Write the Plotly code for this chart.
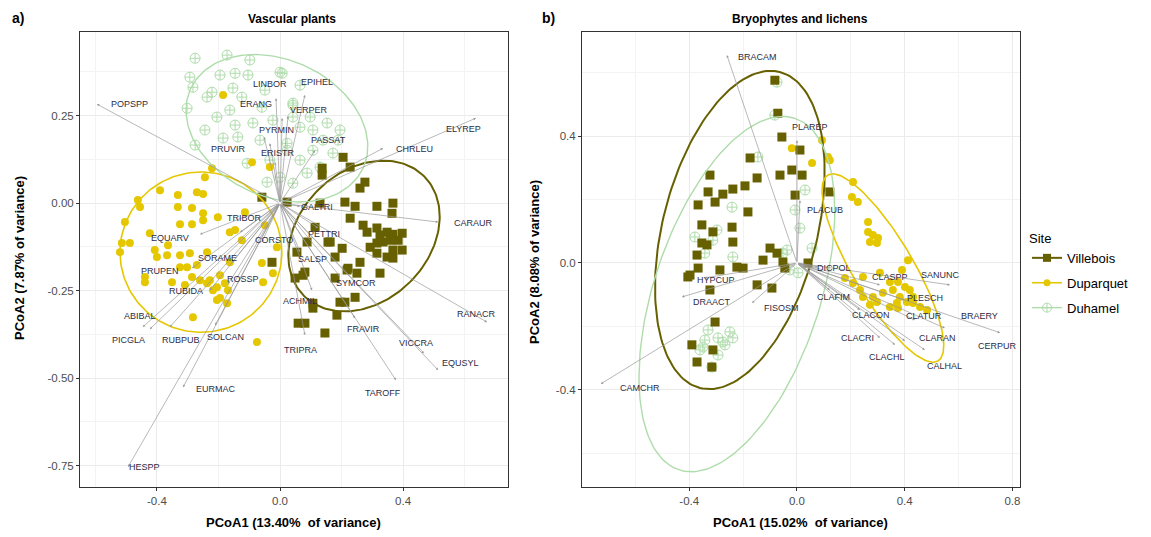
import numpy as np
import plotly.graph_objects as go

# ---------------- Panel a: Vascular plants ----------------
a_vil_x = [-0.059,0.023,0.205,0.137,0.137,0.228,0.276,0.260,0.130,0.211,0.244,0.315,0.367,0.364,0.228,0.270,0.283,0.315,0.325,0.348,0.367,0.397,0.315,0.335,0.358,0.384,0.367,0.397,0.293,0.315,0.348,0.367,0.260,0.221,0.250,0.325,0.202,0.179,0.163,0.114,0.088,0.055,0.081,0.049,0.179,0.195,0.211,0.107,0.107,0.185,0.059,0.081,0.146,-0.026,0.156,0.244,0.218,0.075]
a_vil_y = [0.017,0.003,0.131,0.100,0.080,0.103,0.060,0.043,0.000,0.003,-0.009,-0.009,0.000,-0.029,-0.043,-0.063,-0.083,-0.071,-0.091,-0.083,-0.089,-0.086,-0.114,-0.111,-0.106,-0.106,-0.134,-0.134,-0.126,-0.143,-0.154,-0.157,-0.169,-0.186,-0.200,-0.200,-0.129,-0.154,-0.111,-0.069,-0.111,-0.140,-0.197,-0.214,-0.214,-0.283,-0.283,-0.286,-0.300,-0.320,-0.343,-0.343,-0.371,-0.169,-0.111,-0.269,-0.191,-0.206]

a_dup_x = [-0.185,-0.091,-0.033,-0.221,-0.244,-0.462,-0.455,-0.332,-0.270,-0.250,-0.332,-0.286,-0.250,-0.202,-0.250,-0.325,-0.286,-0.514,-0.488,-0.520,-0.364,-0.407,-0.400,-0.367,-0.325,-0.293,-0.237,-0.439,-0.439,-0.351,-0.325,-0.302,-0.270,-0.286,-0.228,-0.205,-0.237,-0.218,-0.169,-0.195,-0.205,-0.172,-0.283,-0.163,-0.124,-0.049,-0.059,-0.055,-0.146,-0.075,-0.010,-0.023,-0.390,-0.504,-0.423,-0.114,-0.163,-0.260,-0.309,-0.195,-0.179]
a_dup_y = [0.309,0.117,0.103,0.100,0.074,0.009,-0.011,0.023,0.031,0.026,-0.011,-0.014,-0.029,-0.040,-0.049,-0.060,-0.060,-0.114,-0.114,-0.140,-0.120,-0.134,-0.154,-0.149,-0.149,-0.143,-0.140,-0.211,-0.226,-0.226,-0.183,-0.183,-0.177,-0.211,-0.220,-0.240,-0.229,-0.249,-0.249,-0.271,-0.277,-0.286,-0.326,-0.083,-0.106,-0.063,-0.171,-0.226,-0.077,-0.397,-0.126,-0.200,0.037,-0.054,-0.086,-0.026,-0.169,-0.220,-0.234,-0.206,-0.229]

a_duh_x = [-0.276,-0.172,-0.293,-0.195,-0.146,-0.104,0.000,-0.283,-0.221,-0.153,-0.124,-0.302,-0.059,0.042,-0.146,-0.088,-0.023,0.042,-0.185,-0.137,-0.276,0.023,-0.107,-0.033,0.000,-0.042,-0.205,-0.237,0.007,0.042,0.065,0.107,0.153,0.195,0.140,0.107,0.172,0.065,0.023,0.088,0.042,0.130,0.189,0.098,-0.098,0.065,-0.244,-0.065,-0.163,-0.049]
a_duh_y = [0.414,0.423,0.360,0.366,0.371,0.366,0.374,0.331,0.317,0.329,0.303,0.271,0.274,0.280,0.223,0.229,0.237,0.246,0.186,0.189,0.166,0.171,0.114,0.123,0.074,0.060,0.246,0.303,0.371,0.286,0.217,0.209,0.229,0.209,0.180,0.151,0.143,0.123,0.151,0.086,0.057,0.103,0.180,0.246,0.409,0.337,0.209,0.180,0.266,0.323]

a_species = ["POPSPP","LINBOR","EPIHEL","ERANG","VERPER","PYRMIN","PASSAT","PRUVIR","ERISTR","CHRLEU","ELYREP","GALTRI","TRIBOR","CARAUR","CORSTO","PETTRI","EQUARV","SORAME","PRUPEN","ROSSP","SALSP","SYMCOR","RUBIDA","ACHMIL","ABIBAL","RANACR","PICGLA","RUBPUB","SOLCAN","FRAVIR","VICCRA","EQUSYL","TRIPRA","TAROFF","EURMAC","HESPP"]
a_tip_x = [-0.595,-0.013,0.081,0.007,0.026,-0.033,0.114,-0.052,-0.016,0.335,0.637,0.065,-0.130,0.514,-0.059,0.124,-0.260,-0.156,-0.286,-0.169,0.065,0.195,-0.228,0.104,-0.446,0.673,-0.423,-0.358,-0.211,0.244,0.468,0.514,0.081,0.377,-0.315,-0.494]
a_tip_y = [0.283,0.300,0.309,0.243,0.249,0.171,0.151,0.189,0.117,0.157,0.243,-0.009,-0.083,-0.054,-0.111,-0.071,-0.089,-0.169,-0.186,-0.231,-0.140,-0.209,-0.249,-0.249,-0.354,-0.340,-0.360,-0.354,-0.349,-0.329,-0.429,-0.477,-0.377,-0.506,-0.526,-0.754]
a_lab_x = [-0.488,-0.033,0.120,-0.078,0.094,-0.013,0.159,-0.169,-0.007,0.436,0.595,0.120,-0.117,0.628,-0.020,0.143,-0.358,-0.202,-0.390,-0.120,0.107,0.247,-0.306,0.065,-0.455,0.637,-0.494,-0.322,-0.176,0.270,0.442,0.585,0.065,0.335,-0.208,-0.439]
a_lab_y = [0.283,0.340,0.346,0.283,0.266,0.209,0.180,0.154,0.143,0.154,0.211,-0.011,-0.043,-0.057,-0.106,-0.089,-0.100,-0.157,-0.194,-0.217,-0.160,-0.229,-0.251,-0.280,-0.323,-0.317,-0.391,-0.391,-0.383,-0.360,-0.400,-0.457,-0.420,-0.543,-0.531,-0.754]

# ---------------- Panel b: Bryophytes and lichens ----------------
b_vil_x = [-0.082,-0.071,-0.056,-0.174,-0.323,-0.148,-0.063,-0.019,-0.330,-0.275,-0.238,-0.193,-0.304,-0.367,-0.007,-0.182,-0.353,-0.312,-0.241,-0.238,-0.353,-0.334,-0.371,-0.100,-0.074,-0.126,-0.052,-0.286,-0.223,-0.200,-0.367,-0.397,0.019,0.122,-0.045,0.041,-0.405,-0.323,-0.148,-0.093,-0.304,-0.390,-0.312,-0.371,-0.316,0.011]
b_vil_y = [0.576,0.472,0.397,0.331,0.277,0.268,0.277,0.293,0.224,0.217,0.233,0.243,0.192,0.183,0.214,0.161,0.120,0.098,0.113,0.066,0.063,0.057,0.025,0.047,0.031,0.009,0.003,-0.022,-0.013,-0.016,-0.016,-0.038,0.277,0.224,-0.016,0.000,-0.044,-0.085,-0.069,-0.079,-0.186,-0.258,-0.274,-0.312,-0.328,0.356]

b_dup_x = [-0.019,0.056,0.115,0.208,0.204,0.226,0.264,0.264,0.282,0.301,0.271,0.297,0.412,0.390,0.308,0.245,0.345,0.375,0.401,0.419,0.356,0.319,0.282,0.245,0.297,0.371,0.408,0.431,0.457,0.483,0.375,0.345,0.234,0.208,0.178,0.382,0.431,0.271,0.093,0.122]
b_dup_y = [0.362,0.315,0.334,0.255,0.208,0.192,0.129,0.098,0.088,0.079,0.066,0.063,0.009,-0.022,-0.031,-0.044,-0.060,-0.060,-0.076,-0.085,-0.085,-0.094,-0.107,-0.107,-0.123,-0.126,-0.123,-0.126,-0.139,-0.148,-0.142,-0.139,-0.085,-0.063,-0.047,-0.107,-0.107,-0.132,0.387,0.324]

b_duh_x = [-0.074,-0.082,-0.145,-0.241,-0.297,-0.379,-0.312,-0.342,-0.238,-0.052,-0.026,0.030,0.011,0.056,0.004,-0.037,-0.330,-0.249,-0.360,-0.267,-0.293,-0.316,-0.349,-0.238,-0.275,-0.293,-0.342,-0.007]
b_duh_y = [0.570,0.466,0.334,0.176,0.104,0.082,0.072,0.031,0.019,0.031,-0.022,0.230,0.110,0.047,-0.031,0.041,-0.211,-0.217,-0.274,-0.258,-0.290,-0.328,-0.265,-0.236,-0.249,-0.236,-0.243,0.167]

b_species = ["BRACAM","PLAREP","PLACUB","DICPOL","CLASPP","SANUNC","CLAFIM","PLESCH","CLACON","CLATUR","BRAERY","CLACRI","CLARAN","CLACHL","CALHAL","CERPUR","HYPCUP","DRAACT","FISOSM","CAMCHR"]
b_tip_x = [-0.260,0.000,0.011,0.078,0.308,0.568,0.122,0.401,0.234,0.438,0.549,0.308,0.401,0.364,0.475,0.754,-0.342,-0.427,-0.167,-0.728]
b_tip_y = [0.655,0.387,0.198,-0.013,-0.069,-0.069,-0.085,-0.117,-0.148,-0.180,-0.205,-0.236,-0.246,-0.258,-0.274,-0.220,-0.047,-0.107,-0.126,-0.381]
b_lab_x = [-0.148,0.048,0.104,0.137,0.345,0.531,0.137,0.475,0.275,0.471,0.679,0.226,0.523,0.334,0.549,0.746,-0.301,-0.316,-0.056,-0.583]
b_lab_y = [0.649,0.428,0.167,-0.016,-0.044,-0.038,-0.107,-0.110,-0.164,-0.167,-0.167,-0.236,-0.236,-0.296,-0.324,-0.261,-0.054,-0.123,-0.142,-0.394]

# Ellipse parameters: centre, conjugate semi-axis vectors (data units)
ell_sites = ["Villebois", "Duparquet", "Duhamel"]
a_ell_c = [(0.273, -0.094), (-0.257, -0.140), (-0.010, 0.214)]
a_ell_u = [(0.195, 0.171), (0.263, 0.0), (0.280, -0.114)]
a_ell_v = [(0.150, -0.131), (0.0, 0.229), (-0.094, -0.177)]
b_ell_c = [(-0.212, 0.104), (0.319, -0.016), (-0.223, -0.098)]
b_ell_u = [(0.148, 0.498), (0.204, -0.293), (0.215, 0.554)]
b_ell_v = [(0.278, -0.060), (0.097, 0.047), (0.293, -0.082)]

COL = {"Villebois": "#676000", "Duparquet": "#e5c700", "Duhamel": "#aedcaa"}
SYM = {"Villebois": "square", "Duparquet": "circle", "Duhamel": "circle-cross-open"}
SIZE = {"Villebois": 9, "Duparquet": 8, "Duhamel": 10}
EW = {"Villebois": 2.0, "Duparquet": 1.6, "Duhamel": 1.4}

W, H = 1151, 537
def fx(p): return p / W
def fy(p): return 1 - p / H

fig = go.Figure()

def add_points(xs, ys, site, xa, ya):
    m = dict(symbol=SYM[site], size=SIZE[site], color=COL[site])
    if site == "Duhamel":
        m["line"] = dict(width=1, color=COL[site])
    fig.add_trace(go.Scatter(x=xs, y=ys, mode="markers", marker=m, xaxis=xa, yaxis=ya,
                             showlegend=False, hoverinfo="skip"))

def add_ellipse(c, u, v, site, xa, ya):
    t = np.linspace(0, 2 * np.pi, 181)
    ex = c[0] + u[0] * np.cos(t) + v[0] * np.sin(t)
    ey = c[1] + u[1] * np.cos(t) + v[1] * np.sin(t)
    fig.add_trace(go.Scatter(x=ex, y=ey, mode="lines", line=dict(color=COL[site], width=EW[site]),
                             xaxis=xa, yaxis=ya, showlegend=False, hoverinfo="skip"))

# panel a
add_points(a_duh_x, a_duh_y, "Duhamel", "x", "y")
add_points(a_dup_x, a_dup_y, "Duparquet", "x", "y")
add_points(a_vil_x, a_vil_y, "Villebois", "x", "y")
for i, s in enumerate(ell_sites):
    add_ellipse(a_ell_c[i], a_ell_u[i], a_ell_v[i], s, "x", "y")
# panel b
add_points(b_duh_x, b_duh_y, "Duhamel", "x2", "y2")
add_points(b_dup_x, b_dup_y, "Duparquet", "x2", "y2")
add_points(b_vil_x, b_vil_y, "Villebois", "x2", "y2")
for i, s in enumerate(ell_sites):
    add_ellipse(b_ell_c[i], b_ell_u[i], b_ell_v[i], s, "x2", "y2")

# legend entries
for s in ell_sites:
    m = dict(symbol=SYM[s], size=SIZE[s] - 1, color=COL[s])
    if s == "Duhamel":
        m["line"] = dict(width=1, color=COL[s])
    fig.add_trace(go.Scatter(x=[None], y=[None], mode="lines+markers", name=s, legendgroup=s,
                             line=dict(color=COL[s], width=EW[s]), marker=m))

annotations = []
def add_vectors(names, tx, ty, lx, ly, xr, yr):
    for n, x, y, a, b in zip(names, tx, ty, lx, ly):
        annotations.append(dict(x=x, y=y, ax=0, ay=0, xref=xr, yref=yr, axref=xr, ayref=yr,
                                text="", showarrow=True, arrowhead=2, arrowsize=0.7,
                                arrowwidth=0.7, arrowcolor="#9a9a9a"))
    for n, x, y, a, b in zip(names, tx, ty, lx, ly):
        annotations.append(dict(x=a, y=b, xref=xr, yref=yr, text=n, showarrow=False,
                                font=dict(size=9, color="#2c2c44", family="Liberation Sans")))

add_vectors(a_species, a_tip_x, a_tip_y, a_lab_x, a_lab_y, "x", "y")
add_vectors(b_species, b_tip_x, b_tip_y, b_lab_x, b_lab_y, "x2", "y2")

def txt(x, y, s, size=12.5, angle=0, xanchor="center"):
    annotations.append(dict(x=fx(x), y=fy(y), xref="paper", yref="paper", text="<b>%s</b>" % s,
                            showarrow=False, textangle=angle, xanchor=xanchor, yanchor="middle",
                            font=dict(family="Liberation Sans", size=size, color="black")))

txt(292, 19, "Vascular plants", 12)
txt(800, 19, "Bryophytes and lichens", 12)
txt(10, 18, "a)", 14, xanchor="left")
txt(540, 18, "b)", 14, xanchor="left")
txt(293, 522, "PCoA1 (13.40%  of variance)", 13)
txt(800, 522, "PCoA1 (15.02%  of variance)", 13)
txt(19, 258, "PCoA2 (7.87% of variance)", 13, angle=-90)
txt(534, 262, "PCoA2 (8.08% of variance)", 13, angle=-90)

axis_common = dict(showline=True, mirror=True, linecolor="#333333", linewidth=1,
                   ticks="outside", ticklen=3, tickcolor="#333333",
                   showgrid=True, gridcolor="#ebebeb", gridwidth=1, zeroline=False,
                   tickfont=dict(family="Liberation Sans", size=11.5, color="#4d4d4d"))

fig.update_layout(
    width=W, height=H, margin=dict(l=0, r=0, t=0, b=0),
    paper_bgcolor="white", plot_bgcolor="white",
    xaxis=dict(domain=[fx(80), fx(508)], range=[-0.650, 0.741],
               tickvals=[-0.4, 0, 0.4], ticktext=["-0.4", "0.0", "0.4"],
               minor=dict(tickvals=[-0.6, -0.2, 0.2, 0.6], showgrid=True, gridcolor="#f3f3f3", ticks=""),
               anchor="y", **axis_common),
    yaxis=dict(domain=[fy(487), fy(32)], range=[-0.811, 0.489],
               tickvals=[-0.75, -0.5, -0.25, 0, 0.25], ticktext=["-0.75", "-0.50", "-0.25", "0.00", "0.25"],
               minor=dict(tickvals=[-0.625, -0.375, -0.125, 0.125, 0.375], showgrid=True, gridcolor="#f3f3f3", ticks=""),
               anchor="x", **axis_common),
    xaxis2=dict(domain=[fx(582), fx(1020)], range=[-0.798, 0.828],
                tickvals=[-0.8, -0.4, 0, 0.4, 0.8], ticktext=["-0.8", "-0.4", "0.0", "0.4", "0.8"],
                minor=dict(tickvals=[-0.6, -0.2, 0.2, 0.6], showgrid=True, gridcolor="#f3f3f3", ticks=""),
                anchor="y2", **axis_common),
    yaxis2=dict(domain=[fy(487), fy(32)], range=[-0.706, 0.728],
                tickvals=[-0.4, 0, 0.4], ticktext=["-0.4", "0.0", "0.4"],
                minor=dict(tickvals=[-0.6, -0.2, 0.2, 0.6], showgrid=True, gridcolor="#f3f3f3", ticks=""),
                anchor="x2", **axis_common),
    legend=dict(x=fx(1027), y=fy(226), xanchor="left", yanchor="top",
                title=dict(text="Site", font=dict(family="Liberation Sans", size=13, color="black")),
                font=dict(family="Liberation Sans", size=13, color="black"),
                itemwidth=30, tracegroupgap=5, bgcolor="rgba(0,0,0,0)"),
    annotations=annotations,
)

fig.write_html("out.html")
